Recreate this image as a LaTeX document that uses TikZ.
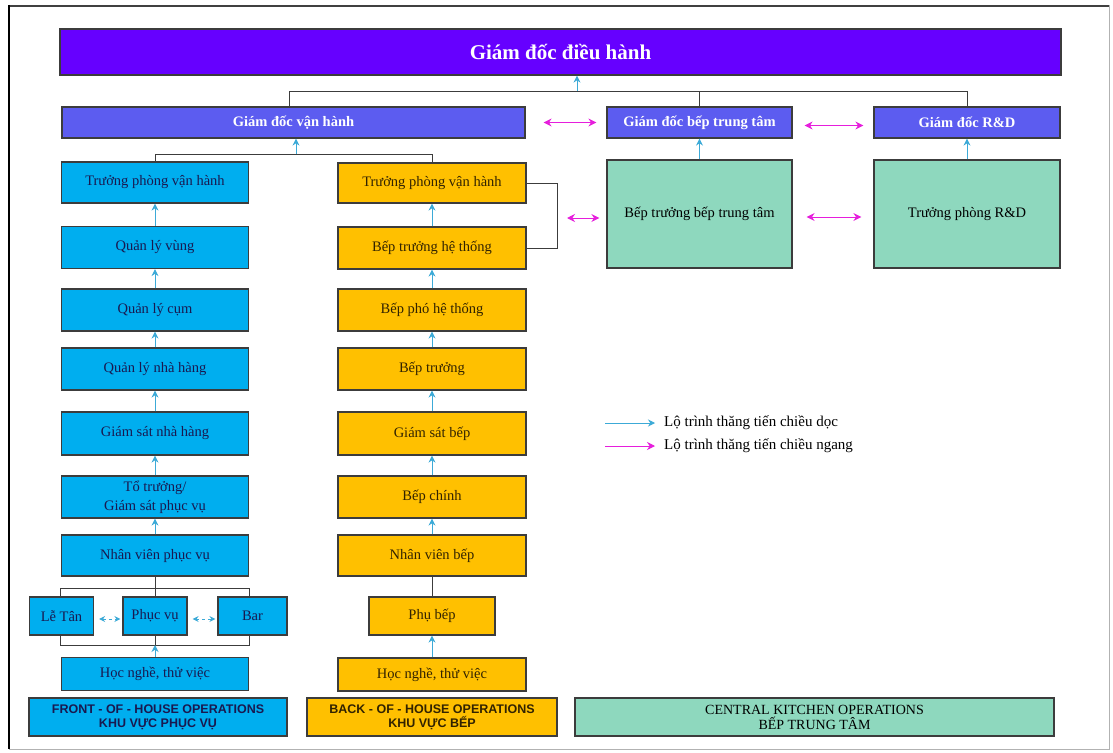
\documentclass[tikz,border=0pt]{standalone}
\usepackage{fontspec}
\setmainfont{Liberation Serif}
\newfontfamily\labelsans{Liberation Sans}
\usetikzlibrary{arrows.meta}
\definecolor{ceo}{RGB}{102,0,255}
\definecolor{dir}{RGB}{92,92,240}
\definecolor{foh}{RGB}{0,174,239}
\definecolor{boh}{RGB}{255,192,0}
\definecolor{ck}{RGB}{142,216,190}
\definecolor{cyanarrow}{RGB}{60,170,215}
\definecolor{magarrow}{RGB}{230,30,220}
\definecolor{edgegray}{RGB}{60,60,60}
\definecolor{navytext}{RGB}{25,25,80}
\definecolor{browntext}{RGB}{50,35,0}
\tikzset{
  base/.style={draw=edgegray, line width=1.2pt, inner sep=1pt, align=center, font=\fontsize{14.5}{16}\selectfont},
  ceobox/.style={base, fill=ceo, text=white, font=\fontsize{21}{24}\selectfont\bfseries},
  dirbox/.style={base, fill=dir, text=white, font=\fontsize{14.5}{16}\selectfont\bfseries},
  fohbox/.style={base, fill=foh, text=navytext},
  bohbox/.style={base, fill=boh, text=browntext},
  ckbox/.style={base, fill=ck, text=black},
  areabox/.style={base, font=\labelsans\bfseries\fontsize{12.5}{13.5}\selectfont},
  legendtext/.style={inner sep=0pt, anchor=west, font=\fontsize{15}{17}\selectfont},
  up/.style={draw=cyanarrow, line width=1pt, -{Stealth[length=7pt,width=7pt]}},
  side/.style={draw=magarrow, line width=1pt, {Stealth[length=8pt,width=8pt]}-{Stealth[length=8pt,width=8pt]}},
  sideone/.style={draw=magarrow, line width=1pt, -{Stealth[length=8pt,width=8pt]}},
  sidedot/.style={draw=cyanarrow, line width=1pt, dashed, {Stealth[length=6pt,width=6pt]}-{Stealth[length=6pt,width=6pt]}},
  link/.style={draw=edgegray, line width=1pt},
}
\begin{document}
\begin{tikzpicture}[x=1pt, y=-1pt]
\path[use as bounding box] (0,0) rectangle (1113,752);
\fill[white] (0,0) rectangle (1113,752);
% page frame
\draw[gray!60, line width=1pt] (9,6) rectangle (1109,749);
\draw[black!75, line width=2pt] (8,6) -- (1109,6);
\draw[black, line width=2.5pt] (9,5) -- (9,749);

% top level
\node[ceobox, minimum width=1001pt, minimum height=46pt] (ceo) at (560.5,52) {Giám đốc điều hành};
\node[dirbox, minimum width=463pt, minimum height=31pt] (ops) at (293.5,122.5) {Giám đốc vận hành};
\node[dirbox, minimum width=185pt, minimum height=31pt] (ckd) at (699.5,122.5) {Giám đốc bếp trung tâm};
\node[dirbox, minimum width=186pt, minimum height=31pt] (rdd) at (967,122.5) {Giám đốc R\&D};
\node[ckbox, minimum width=185pt, minimum height=108pt] (ckh) at (699.5,214) {Bếp trưởng bếp trung tâm};
\node[ckbox, minimum width=186pt, minimum height=108pt] (rdh) at (967,214) {Trưởng phòng R\&D};

% front of house
\node[fohbox, minimum width=187pt, minimum height=41pt] (f1) at (155,182.5) {Trưởng phòng vận hành};
\node[fohbox, minimum width=187pt, minimum height=42pt] (f2) at (155,247.5) {Quản lý vùng};
\node[fohbox, minimum width=187pt, minimum height=42pt] (f3) at (155,310) {Quản lý cụm};
\node[fohbox, minimum width=187pt, minimum height=42pt] (f4) at (155,369) {Quản lý nhà hàng};
\node[fohbox, minimum width=187pt, minimum height=43pt] (f5) at (155,433.5) {Giám sát nhà hàng};
\node[fohbox, minimum width=187pt, minimum height=42pt, font=\fontsize{14.5}{19}\selectfont] (f6) at (155,497) {Tổ trưởng/\\Giám sát phục vụ};
\node[fohbox, minimum width=187pt, minimum height=41pt] (f7) at (155,555.5) {Nhân viên phục vụ};
\node[fohbox, minimum width=64pt, minimum height=38pt] (letan) at (61.5,616) {Lễ Tân};
\node[fohbox, minimum width=64pt, minimum height=38pt] (phucvu) at (155,616) {Phục vụ};
\node[fohbox, minimum width=69pt, minimum height=38pt] (bar) at (252.5,616) {Bar};
\node[fohbox, minimum width=187pt, minimum height=33pt] (f9) at (155,674) {Học nghề, thử việc};
\node[areabox, fill=foh, text=navytext, minimum width=258pt, minimum height=38pt] (fohlabel) at (158,717) {FRONT - OF - HOUSE OPERATIONS\\KHU VỰC PHỤC VỤ};

% back of house
\node[bohbox, minimum width=188pt, minimum height=40pt] (b1) at (432,183) {Trưởng phòng vận hành};
\node[bohbox, minimum width=188pt, minimum height=42pt] (b2) at (432,248) {Bếp trưởng hệ thống};
\node[bohbox, minimum width=188pt, minimum height=42pt] (b3) at (432,310) {Bếp phó hệ thống};
\node[bohbox, minimum width=188pt, minimum height=42pt] (b4) at (432,369) {Bếp trưởng};
\node[bohbox, minimum width=188pt, minimum height=43pt] (b5) at (432,433.5) {Giám sát bếp};
\node[bohbox, minimum width=188pt, minimum height=42pt] (b6) at (432,497) {Bếp chính};
\node[bohbox, minimum width=188pt, minimum height=41pt] (b7) at (432,555.5) {Nhân viên bếp};
\node[bohbox, minimum width=126pt, minimum height=38pt] (phubep) at (432,616) {Phụ bếp};
\node[bohbox, minimum width=188pt, minimum height=33pt] (b9) at (432,674.5) {Học nghề, thử việc};
\node[areabox, fill=boh, text=browntext, minimum width=250pt, minimum height=38pt] (bohlabel) at (432,717) {BACK - OF - HOUSE OPERATIONS\\KHU VỰC BẾP};

% central kitchen label
\node[base, fill=ck, text=black, font=\fontsize{14}{15}\selectfont, minimum width=479pt, minimum height=38pt] (cklabel) at (814.5,717) {CENTRAL KITCHEN OPERATIONS\\BẾP TRUNG TÂM};

% legend
\node[legendtext] (lg1) at (664,423) {Lộ trình thăng tiến chiều dọc};
\node[legendtext] (lg2) at (664,446) {Lộ trình thăng tiến chiều ngang};
\draw[up] ([xshift=-59pt]lg1.west) -- ([xshift=-9pt]lg1.west);
\draw[sideone] ([xshift=-59pt]lg2.west) -- ([xshift=-9pt]lg2.west);

% top connectors
\coordinate (h1) at (289,91);
\coordinate (topar) at (577,91);
\draw[link] (ops.north -| h1) -- (h1) -- (rdd.north |- h1) -- (rdd.north);
\draw[link] (ckd.north |- h1) -- (ckd.north);
\draw[up] (topar) -- (ceo.south -| topar);

% operations to the two columns
\coordinate (h3) at (296,154);
\draw[link] (f1.north) -- (f1.north |- h3) -- (b1.north |- h3) -- (b1.north);
\draw[up] (h3) -- (ops.south -| h3);

% central kitchen vertical
\draw[up] (ckh.north) -- (ckd.south);
\draw[up] (rdh.north) -- (rdd.south);

% horizontal paths
\draw[side] ([xshift=18pt]ops.east) -- ([xshift=-10pt]ckd.west);
\draw[side] ([xshift=12pt,yshift=-3pt]ckd.east) -- ([xshift=-10pt,yshift=-3pt]rdd.west);
\draw[side] ([xshift=14pt,yshift=-3pt]ckh.east) -- ([xshift=-12pt,yshift=-3pt]rdh.west);
\coordinate (bk) at (557,218);
\draw[link] (b1.east) -- (b1.east -| bk) -- (b2.east -| bk) -- (b2.east);
\draw[side] ([xshift=10pt]bk) -- ([xshift=-7pt]ckh.west |- bk);

% FOH column arrows
\draw[up] (f2.north) -- (f1.south);
\draw[up] (f3.north) -- (f2.south);
\draw[up] (f4.north) -- (f3.south);
\draw[up] (f5.north) -- (f4.south);
\draw[up] (f6.north) -- (f5.south);
\draw[up] (f7.north) -- (f6.south);
\coordinate (rt) at (155,588);
\coordinate (rb) at (155,645);
\draw[link] (letan.north -| f7.west) -- (rt -| f7.west) -- (rt -| f7.east) -- (bar.north -| f7.east);
\draw[link] (f7.south) -- (phucvu.north);
\draw[link] (letan.south -| f7.west) -- (rb -| f7.west) -- (rb -| f7.east) -- (bar.south -| f7.east);
\draw[link] (phucvu.south) -- (rb);
\draw[up] (f9.north) -- (rb);
\draw[sidedot] ([xshift=5pt,yshift=-3pt]letan.east) -- ([xshift=-2pt,yshift=-3pt]phucvu.west);
\draw[sidedot] ([xshift=5pt,yshift=-3pt]phucvu.east) -- ([xshift=-2pt,yshift=-3pt]bar.west);

% BOH column arrows
\draw[up] (b2.north) -- (b1.south);
\draw[up] (b3.north) -- (b2.south);
\draw[up] (b4.north) -- (b3.south);
\draw[up] (b5.north) -- (b4.south);
\draw[up] (b6.north) -- (b5.south);
\draw[up] (b7.north) -- (b6.south);
\draw[link] (b7.south) -- (phubep.north);
\draw[up] (b9.north) -- (phubep.south);
\end{tikzpicture}
\end{document}
